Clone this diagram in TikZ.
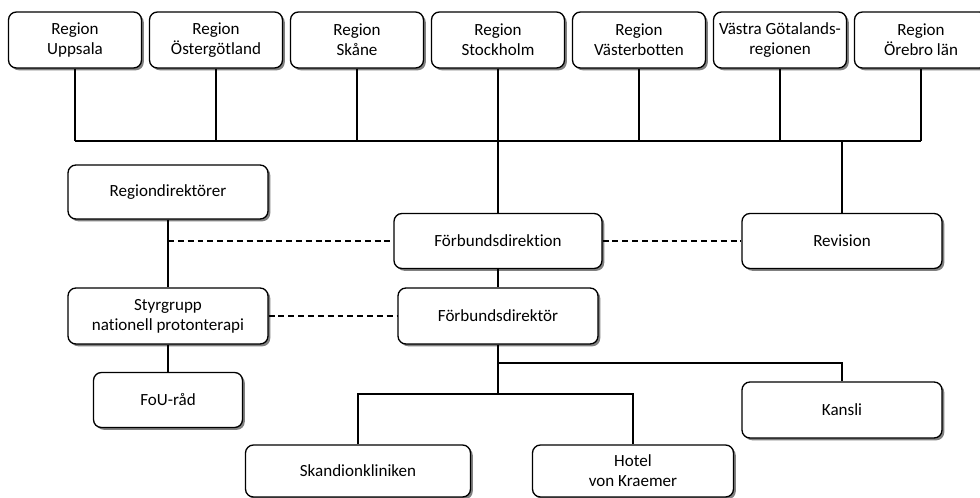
\documentclass[tikz,border=0pt]{standalone}
\usepackage{fontspec}
\setmainfont{Carlito}[Ligatures=NoCommon]
\usetikzlibrary{positioning,shadows}

\tikzset{
  orgbox/.style={draw=black, line width=0.75pt, fill=white, rounded corners=4.5pt, align=center,
    font=\fontsize{9.7}{11.4}\selectfont, inner sep=1pt,
    drop shadow={shadow xshift=1.3pt, shadow yshift=-1.3pt, fill=black!50, opacity=1}},
  link/.style={draw=black, line width=0.6pt},
  dotlink/.style={link, dash pattern=on 3.4pt off 2.2pt}
}

\begin{document}
\begin{tikzpicture}[x=0.02cm, y=-0.02cm]
  \clip (0,0) rectangle (980,497);
  \fill[white] (0,0) rectangle (980,497);

  % Owner regions along the top
  \node[orgbox, minimum width=2.66cm, minimum height=1.12cm] (r1) at (75,40) {Region\\Uppsala};
  \node[orgbox, minimum width=2.66cm, minimum height=1.12cm] (r2) at (216,40) {Region\\Östergötland};
  \node[orgbox, minimum width=2.66cm, minimum height=1.12cm] (r3) at (357,40) {Region\\Skåne};
  \node[orgbox, minimum width=2.66cm, minimum height=1.12cm] (r4) at (498,40) {Region\\Stockholm};
  \node[orgbox, minimum width=2.66cm, minimum height=1.12cm] (r5) at (639,40) {Region\\Västerbotten};
  \node[orgbox, minimum width=2.66cm, minimum height=1.12cm] (r6) at (780,40) {Västra Götalands-\\regionen};
  \node[orgbox, minimum width=2.66cm, minimum height=1.12cm] (r7) at (921,40) {Region\\Örebro län};

  % Management level
  \node[orgbox, minimum width=4cm, minimum height=1.08cm] (rdir) at (168,192) {Regiondirektörer};
  \node[orgbox, minimum width=4.16cm, minimum height=1.1cm] (dion) at (498,241) {Förbundsdirektion};
  \node[orgbox, minimum width=4cm, minimum height=1.1cm] (rev) at (842,241) {Revision};
  \node[orgbox, minimum width=4cm, minimum height=1.12cm] (styr) at (168,316) {Styrgrupp\\nationell protonterapi};
  \node[orgbox, minimum width=4cm, minimum height=1.12cm] (dor) at (498,316) {Förbundsdirektör};

  % Lower level
  \node[orgbox, minimum width=2.98cm, minimum height=1.1cm] (fou) at (168,400) {FoU-råd};
  \node[orgbox, minimum width=4cm, minimum height=1.12cm] (kansli) at (842,410) {Kansli};
  \node[orgbox, minimum width=4.5cm, minimum height=1.04cm] (skand) at (358,471) {Skandionkliniken};
  \node[orgbox, minimum width=4.02cm, minimum height=1.04cm] (hotel) at (633,471) {Hotel\\von Kraemer};

  % Bus below the regions
  \coordinate (bus) at (0,141);
  \coordinate (split) at (498,394);
  \coordinate (kbr) at (498,363);
  \foreach \n in {1,...,7}
    \draw[link] (r\n.south) -- (r\n.south |- bus);
  \draw[link] (r1.south |- bus) -- (r7.south |- bus);
  \draw[link] (r4.south) -- (dion.north);
  \draw[link] (rev.north |- bus) -- (rev.north);

  % Solid reporting lines
  \draw[link] (rdir) -- (styr);
  \draw[link] (styr) -- (fou);
  \draw[link] (dion) -- (dor);
  \draw[link] (dor.south) -- (split);
  \draw[link] (kbr) -| (kansli.north);
  \draw[link] (skand.north) |- (split) -| (hotel.north);

  % Dashed links
  \draw[dotlink] (rdir.south |- dion.west) -- (dion.west);
  \draw[dotlink] (dion.east) -- (rev.west);
  \draw[dotlink] (styr.east) -- (dor.west);
\end{tikzpicture}
\end{document}
